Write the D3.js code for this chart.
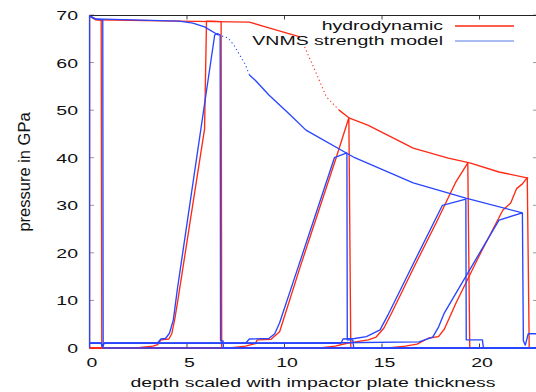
<!DOCTYPE html>
<html>
<head>
<meta charset="utf-8">
<script src="https://cdn.jsdelivr.net/npm/d3@7"></script>
<style>
  body { margin: 0; background: #fff; }
  svg { display: block; font-family: "Liberation Sans", Arial, sans-serif; }
</style>
</head>
<body>
<svg id="chart" width="536" height="392"></svg>
<script>
// pressure profiles [depth, GPa] at five times, hydrodynamic run
var hydroT1 = [[0,0],[0,69.8],[0.3,69.1],[0.6,68.9],[0.63,0],[23,0]];
var hydroT2 = [[0,0],[2.38,0],[3.25,0.4],[3.5,0.7],[3.66,1.7],[4.07,1.9],[4.22,3],[4.37,6],[4.53,10],
  [5.9,46],[6.0,68.7],[6.3,68.7],[6.75,68.6],[6.78,0],[23,0]];
var hydroT3 = [[0,0],[7.2,0],[8.0,0.4],[8.5,0.9],[8.6,1.7],[9.3,1.8],[9.5,2.5],[9.75,3.4],[10.8,17],
  [12.65,40],[13.3,48.4],[13.4,0],[23,0]];
var hydroT4 = [[0,0],[11.8,0],[12.6,0.4],[13.2,1.0],[13.64,1.3],[14.3,1.7],[14.7,2.3],[15.1,4.2],[15.5,7.4],
  [16.7,17.5],[17.8,26.5],[18.76,34.7],[19.4,38.9],[19.5,0],[23,0]];
var hydroT5 = [[0,0],[15.3,0],[16.2,0.4],[16.8,0.8],[17.4,2.1],[17.9,2.4],[18.2,4],[18.8,9.5],[20.0,19.5],
  [21.2,29],[21.6,30.5],[21.9,33.5],[22.2,34.5],[22.45,35.8],[22.55,0],[23,0]];

// same times, VNMS strength model
var strengthT1 = [[0,0],[0,69.8],[0.3,69.2],[0.68,69],[0.7,0],[23,0]];
var strengthT2 = [[0,1.0],[0.6,1.0],[0.66,0.4],[0.75,1.0],[3.5,1.1],[3.66,1.9],[3.9,2.0],[4.1,3.1],[4.3,5.9],
  [4.5,12.2],[6.42,65.8],[6.55,66.1],[6.7,65.8],[6.72,1.5],[6.85,1.5],[6.87,0],[23,0]];
var strengthT3 = [[0,1.0],[0.6,1.0],[0.66,0.4],[0.75,1.0],[8.0,1.0],[8.2,1.9],[9.2,2.0],[9.5,3.0],[9.75,5.3],
  [10.7,17],[12.56,40],[13.2,41],[13.22,1.7],[13.5,1.7],[13.55,0],[23,0]];
var strengthT4 = [[0,1.0],[0.6,1.0],[0.66,0.4],[0.75,1.0],[12.9,1.0],[13.0,1.9],[13.6,2.0],[14.2,2.4],[14.9,3.8],
  [15.3,6.9],[16.7,18.5],[18.1,30],[19.3,31.3],[19.32,1.7],[20.15,1.7],[20.2,0],[23,0]];
var strengthT5 = [[0,1.0],[0.6,1.0],[0.66,0.4],[0.75,1.0],[13.0,1.1],[16.9,1.3],[17.6,2.3],[17.9,4.4],[18.2,7.4],
  [21.0,26.9],[22.2,28.4],[22.25,1.5],[22.35,0.6],[22.5,3.0],[23,3.0]];

// peak pressure reached at each depth (dotted where the samples thin out)
var hydroPeak = [[0,69.8],[0.3,69],[4.6,68.7],[8.2,68.5],[9.2,67.3],[10.3,66],[10.8,65.4]];
var hydroPeakSparse = [[11.03,63.3],[11.6,58],[12.15,52.8],[12.8,50]];
var hydroPeakTail = [[12.8,50],[13.3,48.4],[14.3,46.8],[16.6,42],[18.4,39.9],[19.5,38.9],[21.0,37],[22.5,35.7]];
var strengthPeak = [[0,69.8],[0.3,69.2],[4.6,68.7],[5.3,68.3],[5.9,67.5],[6.6,65.8]];
var strengthPeakSparse = [[6.6,65.8],[7.1,65.2],[7.4,63.7],[7.7,61.6],[8.0,59.5],[8.2,57.4]];
var strengthPeakTail = [[8.2,57.4],[8.5,56.3],[9.2,53.2],[10.3,49],[11.1,45.8],[13.6,40],[16.6,34.7],[19.3,31.5],[22.2,28.4]];

var xTicks = [0, 5, 10, 15, 20];
var yTicks = [0, 10, 20, 30, 40, 50, 60, 70];
var seriesNames = ["hydrodynamic", "VNMS strength model"];

var red = "#ff2a14";
var blue = "#2846ff";

var svg = d3.select("#chart");
var x = d3.scaleLinear().domain([0, 23]).range([89.5, 538]);
var y = d3.scaleLinear().domain([0, 70]).range([348, 15]);

// the lettering is set wide: stretch it sideways
function label(px, py, str, anchor) {
  return svg.append("text")
    .attr("transform", "translate(" + px + "," + py + ") scale(1.3,0.88)")
    .attr("text-anchor", anchor).attr("font-size", 15).attr("fill", "#111")
    .text(str);
}

svg.append("clipPath").attr("id", "plotclip")
  .append("rect").attr("x", 89).attr("y", 14).attr("width", 450).attr("height", 336);

// small inward ticks
var tickCol = "#999";
yTicks.forEach(function(v) {
  svg.append("line").attr("x1", 89.5).attr("x2", 94).attr("y1", y(v)).attr("y2", y(v)).attr("stroke", tickCol);
  svg.append("line").attr("x1", 533).attr("x2", 538).attr("y1", y(v)).attr("y2", y(v)).attr("stroke", tickCol);
});
xTicks.forEach(function(v) {
  svg.append("line").attr("x1", x(v)).attr("x2", x(v)).attr("y1", 15).attr("y2", 19.5).attr("stroke", "#444");
  svg.append("line").attr("x1", x(v)).attr("x2", x(v)).attr("y1", 348).attr("y2", 343.5).attr("stroke", "#444");
});

// frame
svg.append("path")
  .attr("d", "M538,15.5H89.5V348H538")
  .attr("fill", "none").attr("stroke", "#222").attr("stroke-width", 1.2);

// tick labels
yTicks.forEach(function(v) { label(78, y(v) + 5, v, "end"); });
xTicks.forEach(function(v) { label(x(v) + 2.5, 367, v, "middle"); });

// axis titles
label(313, 387, "depth scaled with impactor plate thickness", "middle");
svg.append("text").attr("transform", "translate(30,172) rotate(-90) scale(1.1,1.08)").attr("text-anchor", "middle")
  .attr("font-size", 15).attr("fill", "#111").text("pressure in GPa");

var line = d3.line().x(function(d) { return x(d[0]); }).y(function(d) { return y(d[1]); });
var plot = svg.append("g").attr("clip-path", "url(#plotclip)");

function draw(pts, col, dash) {
  var p = plot.append("path").datum(pts).attr("d", line)
    .attr("fill", "none").attr("stroke", col).attr("stroke-width", 1.35)
    .attr("stroke-linejoin", "round");
  if (dash) p.attr("stroke-dasharray", dash).attr("stroke-width", 1.1);
}

[hydroT1, hydroT2, hydroT3, hydroT4, hydroT5, hydroPeak, hydroPeakTail].forEach(function(s) { draw(s, red); });
draw(hydroPeakSparse, red, "1.2,2.8");
[strengthT1, strengthT2, strengthT3, strengthT4, strengthT5, strengthPeak, strengthPeakTail].forEach(function(s) { draw(s, blue); });
draw(strengthPeakSparse, blue, "1.2,2.8");

// legend
var legendCols = [red, "#8fa6f2"];
seriesNames.forEach(function(name, i) {
  var ly = 26 + i * 15;
  label(443, ly + 4, name, "end");
  svg.append("line").attr("x1", 455).attr("x2", 514).attr("y1", ly).attr("y2", ly)
    .attr("stroke", legendCols[i]).attr("stroke-width", 1.3);
});
</script>
</body>
</html>
